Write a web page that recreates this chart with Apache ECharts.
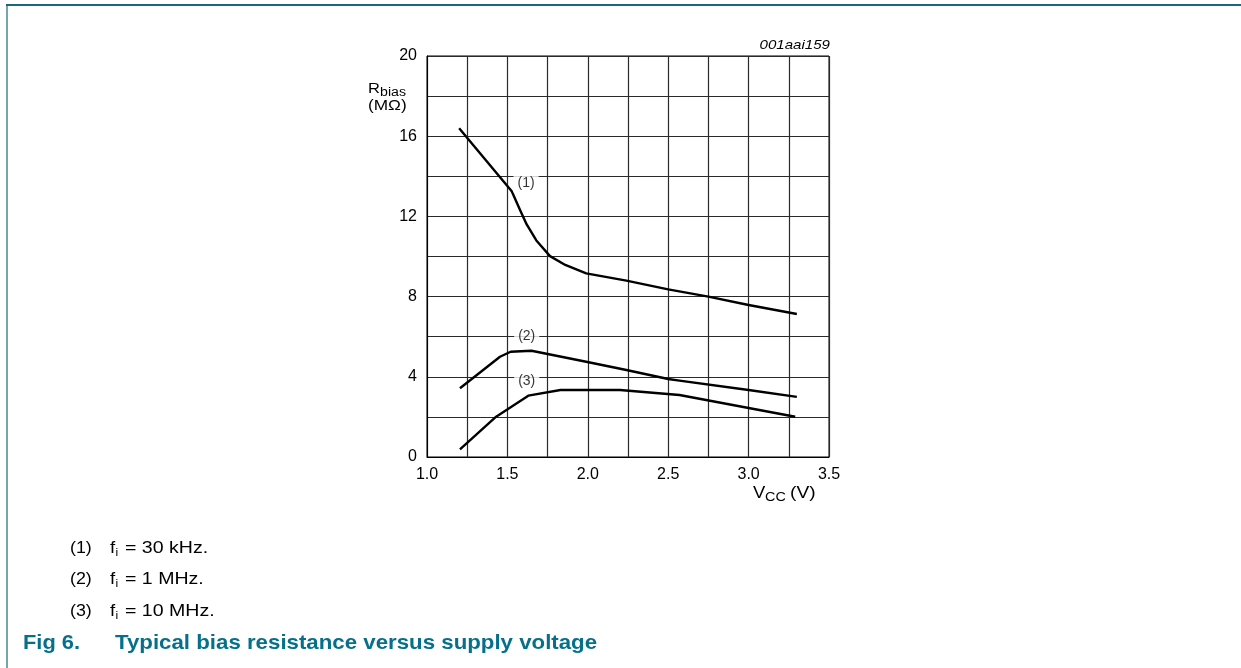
<!DOCTYPE html>
<html>
<head>
<meta charset="utf-8">
<script src="https://cdn.jsdelivr.net/npm/echarts@6/dist/echarts.min.js"></script>
<style>
html,body{margin:0;padding:0;background:#fff;}
#chart{width:1241px;height:668px;}
</style>
</head>
<body>
<div id="chart"></div>
<script>
// Data
var curve1 = [[1.2,16.4],[1.527,13.25],[1.58,12.3],[1.62,11.6],[1.68,10.8],[1.765,10.02],[1.86,9.58],[1.99,9.16],[2.24,8.80],[2.5,8.36],[2.75,8.0],[3.0,7.58],[3.3,7.13]];
var curve2 = [[1.205,3.43],[1.454,5.0],[1.52,5.25],[1.65,5.30],[1.99,4.75],[2.24,4.34],[2.5,3.89],[2.57,3.81],[3.0,3.34],[3.3,3.0]];
var curve3 = [[1.205,0.38],[1.43,2.01],[1.63,3.06],[1.83,3.34],[2.2,3.34],[2.57,3.09],[3.29,2.01]];
var curveLabels = ['(1)','(2)','(3)'];
var curveLabelPoints = [[1.616,13.64],[1.62,6.03],[1.62,3.79]];
var legendFreqs = ['30 kHz.','1 MHz.','10 MHz.'];
var xTicks = [1.0,1.5,2.0,2.5,3.0,3.5];
var yTicks = [0,4,8,12,16,20];

var FONT = 'Liberation Sans, Arial, sans-serif';
var TEAL = '#06708a';
var BORDER = '#17697c';

var chart = echarts.init(document.getElementById('chart'), null, {renderer:'canvas'});

function isTick(list, v){ for (var i=0;i<list.length;i++){ if (Math.abs(list[i]-v)<1e-6) return true; } return false; }

var lineStyle = {color:'#000', width:2.4, join:'round', cap:'butt'};
function lineSeries(d){
  return {type:'line', data:d, showSymbol:false, symbol:'none', lineStyle:lineStyle, z:5, silent:true, animation:false};
}
function txt(x, y, text, font, sx, align, color){
  return {type:'text', x:x, y:y, scaleX:sx || 1, style:{text:text, font:font+' '+FONT, fill:color || '#000', textAlign:align || 'left', textVerticalAlign:'middle'}};
}

var graphics = [
  {type:'line', shape:{x1:6,y1:5,x2:1241,y2:5}, style:{stroke:BORDER, lineWidth:2}},
  {type:'line', shape:{x1:7,y1:5,x2:7,y2:668}, style:{stroke:BORDER, lineWidth:1.2}},
  txt(830, 45, '001aai159', 'italic 13px', 1.16, 'right'),
  txt(368, 89, 'R', '15px', 1.1),
  txt(380, 93, 'bias', '12px', 1.18),
  txt(368, 106, '(M\u03A9)', '15px', 1.15),
  txt(753, 494, 'V', '16px', 1.15),
  txt(765, 498, 'CC', '12px', 1.2),
  txt(790, 494, '(V)', '16px', 1.2),
  txt(23, 643, 'Fig 6.', 'bold 21px', 1.04, 'left', TEAL),
  txt(115, 643, 'Typical bias resistance versus supply voltage', 'bold 21px', 1.06, 'left', TEAL)
];
var legendY = [548, 579, 611];
for (var i=0;i<legendFreqs.length;i++){
  graphics.push(txt(70, legendY[i], curveLabels[i], '17px', 1.05));
  graphics.push(txt(110, legendY[i], 'f', '17px', 1.1));
  graphics.push(txt(115.5, legendY[i]+5, 'i', '11px', 1.1));
  graphics.push(txt(125, legendY[i], '= '+legendFreqs[i], '17px', 1.15));
}

var labelData = curveLabelPoints.map(function(p,i){ return {value:p, label:{formatter:curveLabels[i]}}; });

var option = {
  backgroundColor:'#fff',
  animation:false,
  grid:{left:427, top:56, width:402, height:401, show:true, borderColor:'#000', borderWidth:1, backgroundColor:'transparent', containLabel:false},
  xAxis:{
    type:'value', min:1, max:3.5, interval:0.25,
    axisLine:{show:true, lineStyle:{color:'#000', width:1}},
    axisTick:{show:false},
    splitLine:{show:true, lineStyle:{color:'#2a2a2a', width:1.2}},
    axisLabel:{show:true, margin:10, color:'#000', fontSize:16, fontFamily:FONT,
      showMinLabel:true, showMaxLabel:true,
      formatter:function(v){ return isTick(xTicks, v) ? v.toFixed(1) : ''; }}
  },
  yAxis:{
    type:'value', min:0, max:20, interval:2,
    axisLine:{show:true, lineStyle:{color:'#000', width:1}},
    axisTick:{show:false},
    splitLine:{show:true, lineStyle:{color:'#2a2a2a', width:1.2}},
    axisLabel:{show:true, margin:10, color:'#000', fontSize:16, fontFamily:FONT,
      showMinLabel:true, showMaxLabel:true,
      formatter:function(v){ return isTick(yTicks, v) ? String(v) : ''; }}
  },
  graphic:graphics,
  series:[
    lineSeries(curve1),
    lineSeries(curve2),
    lineSeries(curve3),
    {type:'scatter', data:labelData, symbolSize:0, z:6, silent:true,
      label:{show:true, position:'inside', color:'#000', fontSize:14, fontFamily:FONT,
        backgroundColor:'#fff', padding:[2,4,2,4]}}
  ]
};
chart.setOption(option);
</script>
</body>
</html>
